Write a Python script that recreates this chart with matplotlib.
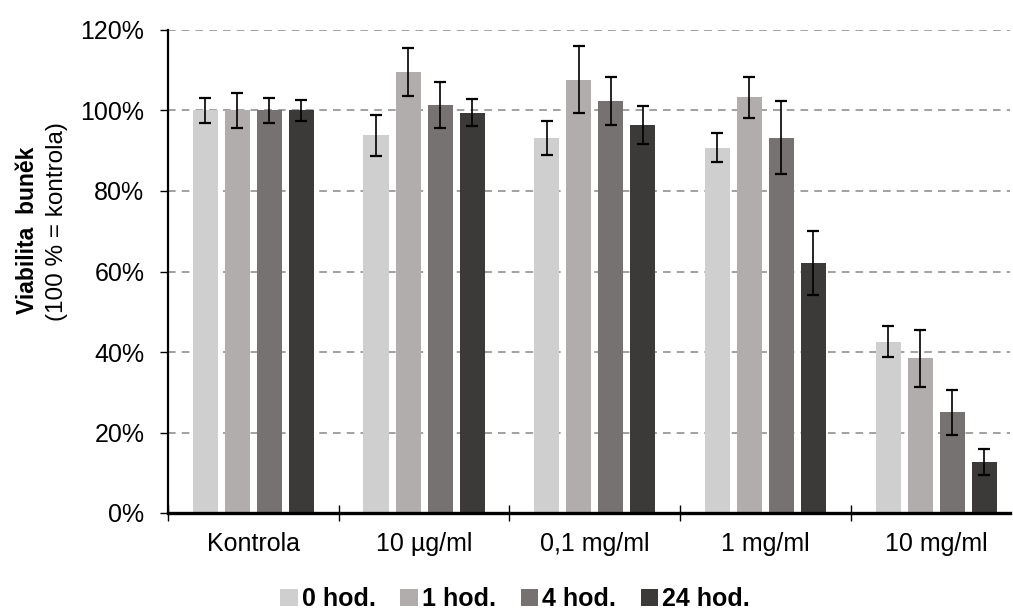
import matplotlib
matplotlib.use("Agg")
import matplotlib.pyplot as plt
from matplotlib.patches import Patch
from matplotlib.ticker import PercentFormatter, FixedLocator, NullFormatter
import numpy as np

plt.rcParams['font.family'] = ['Liberation Sans', 'DejaVu Sans']

categories = ["Kontrola", "10 µg/ml", "0,1 mg/ml", "1 mg/ml", "10 mg/ml"]
series_names = ["0 hod.", "1 hod.", "4 hod.", "24 hod."]
colors = ["#d0cfcf", "#b0adac", "#767271", "#3b3a38"]

v_0h = [100.0, 93.8, 93.2, 90.7, 42.6]
v_1h = [100.0, 109.6, 107.7, 103.3, 38.4]
v_4h = [100.0, 101.4, 102.4, 93.2, 25.0]
v_24h = [100.0, 99.5, 96.3, 62.1, 12.7]

e_0h = [3.0, 5.1, 4.2, 3.6, 3.9]
e_1h = [4.3, 6.0, 8.4, 5.1, 7.0]
e_4h = [3.2, 5.7, 6.0, 9.1, 5.6]
e_24h = [2.6, 3.4, 4.7, 8.0, 3.3]

values = [v_0h, v_1h, v_4h, v_24h]
errors = [e_0h, e_1h, e_4h, e_24h]

fig = plt.figure(figsize=(10.13, 6.10), dpi=100)
ax = fig.add_axes([168/1013, 1 - 513/610, (1010-168)/1013, (513-30)/610])

x = np.arange(len(categories))
step = 0.1875
width = 0.147
for i, (vals, errs) in enumerate(zip(values, errors)):
    ax.bar(x + (i - 1.5) * step, vals, width=width, color=colors[i],
           zorder=2, label=series_names[i])
    ax.errorbar(x + (i - 1.5) * step, vals, yerr=errs, fmt='none',
                ecolor='black', elinewidth=1.2, capsize=4.2, capthick=1.6, zorder=3)

ax.set_xlim(-0.5, (1010-168)/170.7 - 0.5)
ax.set_ylim(0, 120)
ax.set_yticks(np.arange(0, 121, 20))
ax.yaxis.set_major_formatter(PercentFormatter(decimals=0))
ax.yaxis.grid(True, linestyle=(0, (5, 4)), color='#888888', linewidth=1.1, zorder=0)
ax.set_axisbelow(True)

ax.xaxis.set_major_locator(FixedLocator(np.arange(-0.5, 4.6, 1.0)))
ax.xaxis.set_major_formatter(NullFormatter())
ax.xaxis.set_minor_locator(FixedLocator(x))
ax.set_xticklabels(categories, minor=True)
ax.tick_params(axis='x', which='minor', length=0, pad=14, labelsize=18)
ax.tick_params(axis='x', which='major', direction='inout', length=12, width=1.0, color='black')
ax.tick_params(axis='y', direction='out', length=6, width=1.0, pad=11, labelsize=18)

for s in ['top', 'right']:
    ax.spines[s].set_visible(False)
ax.spines['left'].set_linewidth(1.6)
ax.spines['bottom'].set_linewidth(2.4)
ax.spines['bottom'].set_zorder(4)

fig.text(27/1013, 1 - 230/610, "Viabilita  buněk", rotation=90, ha='center', va='center',
         fontsize=16.5, fontweight='bold')
fig.text(57/1013, 1 - 222/610, "(100 % = kontrola)", rotation=90, ha='center', va='center',
         fontsize=17.5)

handles = [Patch(facecolor=c, edgecolor='none') for c in colors]
fig.legend(handles, series_names, loc='center', bbox_to_anchor=(515/1013, 1 - 599/610),
           ncol=4, frameon=False, prop={'weight': 'bold', 'size': 18},
           handlelength=0.7, handleheight=0.7, handletextpad=0.15, columnspacing=1.0,
           borderpad=0, borderaxespad=0)

fig.savefig("out.png", dpi=100)
